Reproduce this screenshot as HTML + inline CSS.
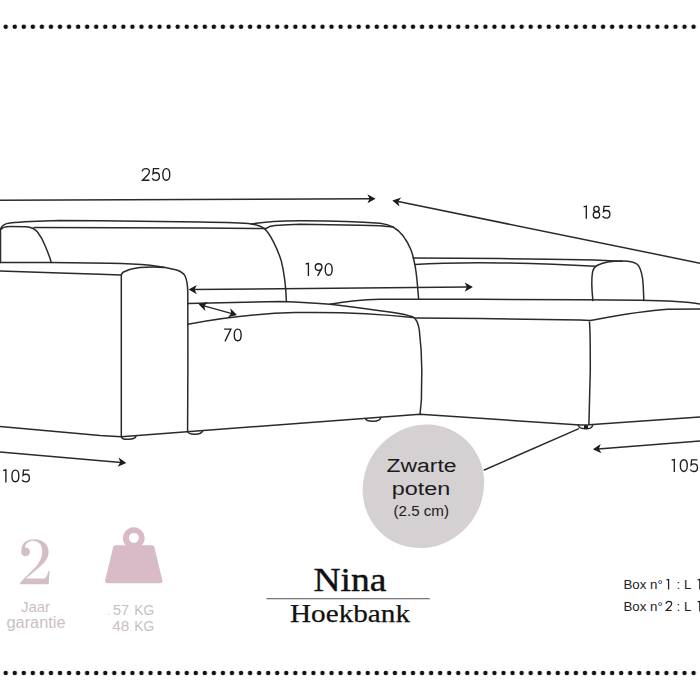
<!DOCTYPE html>
<html><head><meta charset="utf-8">
<style>
html,body{margin:0;padding:0;background:#fff;width:700px;height:700px;overflow:hidden}
svg{display:block}
text{font-family:"Liberation Sans",sans-serif}
.ser{font-family:"Liberation Serif",serif}
</style></head>
<body>
<svg width="700" height="700" viewBox="0 0 700 700">
<defs>
<pattern id="dots" x="1.2" y="0" width="9.051" height="700" patternUnits="userSpaceOnUse">
<circle cx="4.5" cy="26.8" r="2.25" fill="#111"/>
<circle cx="4.5" cy="673" r="2.25" fill="#111"/>
</pattern>
</defs>
<rect x="0" y="0" width="700" height="700" fill="#fff"/>
<rect x="0" y="0" width="700" height="700" fill="url(#dots)"/>

<!-- grey circle -->
<ellipse cx="423.4" cy="486.3" rx="63" ry="59.5" transform="rotate(-53.4 423.4 486.3)" fill="#d5d1d2"/>

<g fill="none" stroke="#2a2a2a" stroke-width="1.5" stroke-linecap="round" stroke-linejoin="round">
<!-- far-left vertical + left backrest outer top + right end curve -->
<path d="M0.5,262.5 L0.5,229 C1.5,226 5,223.5 10,223 C20,222 40,221 60,220.5 L100,220.7 L200,222.1 C225,222.5 243,223 251.4,224 C258,225 262,226.5 264.3,228.6 C270,233 278,250 281.4,261.4 C284,272 286,290 286.4,301.4"/>
<!-- leftmost cushion end -->
<path d="M1.5,229 C2.5,227.5 5,226.6 10,226.6 L26,226.8 C31,227 35,229 37.5,232 C41,236.5 43.5,241.5 45,245.5 C47.5,251.5 50,257 51.2,262.5"/>
<!-- inner straight line left backrest -->
<path d="M34,227.5 L200,227.9 L265.7,228.6"/>
<!-- right backrest outer -->
<path d="M251.4,224 C262,222 280,220.8 300,220.7 C330,220.6 360,221.6 380,223.3 C386,224 390,225.5 393,227 C400,231 407,240 411,250 C414,258 416,270 417,280 L418.6,298.6"/>
<!-- right backrest inner -->
<path d="M265.7,228.6 C268,227 271,226 275,225.6 C285,224.8 295,224.4 300,224.3 L360,225.2 L380,225.8 L393,227"/>
<!-- chaise back top -->
<path d="M413,258 L500,258.6 C560,259 600,259.6 622,261.3"/>
<!-- chaise back second line -->
<path d="M415,264.5 C440,262.8 480,262.7 500,262.9 C540,263.5 570,264.8 595.4,266.3"/>
<!-- chaise arm cushion -->
<path d="M592.9,300.6 C592,292 591.3,280 592.4,273 C593,269 594.5,267 597,265.5 C602,263 612,261 622.9,261.1 C630,261.3 635,262.3 637.5,264.5 C640,267 641.5,272 642.5,278 C643.3,284 643.6,292 643.8,300.6"/>
<!-- seat top line left + arm outer + arm right vertical -->
<path d="M0,262.5 L50,262.6 L110,263.2 C125,263.4 140,264.2 150,265.3 C160,266.3 170,268.2 176.8,270 C181,271.5 184,273.5 185.3,276.5 C187,280.5 187.6,286 187.8,292 L187.9,360 L187.6,431.4"/>
<!-- arm inner top + left vertical -->
<path d="M121.3,436.6 L121.3,275 C122,273 123.5,271.5 125.4,271.2 C129,269.5 133,268.5 140,267.6 C148,267 158,267.1 164,267.4"/>
<!-- lower line -->
<path d="M0,271 L60,273 L100,274.3 L121.3,275"/>
<!-- seat top front line -->
<path d="M187.9,303.6 L280,301.4 C300,302 320,303.3 330,304.3 C350,306.5 375,310 380,310.7 C395,312.5 408,315 413,317 C416,318.5 418,322 419.3,330 C420.5,340 421.8,355 421.8,370 L421.4,400 L420,414.3"/>
<!-- chaise seat top -->
<path d="M330,304.3 C345,301.5 365,299.5 380,299.3 L480,299.3 L580,299.7 L640,300.3 C668,300.8 688,302 700,304"/>
<!-- seat cushion front curve -->
<path d="M187.9,324.3 C225,317.2 255,313.6 295,312.6 C335,311.8 375,313.3 413,317.5"/>
<!-- chaise front top edge -->
<path d="M415,317.9 L480,318.6 L580,320 L590.3,320.5 C612,316.5 642,310.8 668,309.3 L700,309"/>
<!-- chaise right vertical -->
<path d="M589.4,322 C590,325 590.3,335 590.3,370 L588.9,424.6"/>
<!-- base lines -->
<path d="M0,426.6 L100,435.5 L121.3,436.7 L420,414.3 L580,425 L588.9,424.7 L700,417.1"/>
<!-- feet -->
<path d="M121.5,436.8 C122,440.3 135,440.3 136,436"/>
<path d="M187.7,431.4 C188.5,435.2 201.5,435.2 202.5,431"/>
<path d="M365.6,418.5 C366.5,422.3 380,422.3 380.8,417.6"/>
<path d="M578.3,425 C578.5,429.5 591.5,430.3 592.6,425.3"/>
<!-- leader line -->
<path d="M578.3,428.9 L484.3,470"/>
</g>
<rect x="584" y="425.2" width="4" height="3.6" fill="#1c1c1c"/>

<!-- dimension lines -->
<g fill="none" stroke="#2a2a2a" stroke-width="1.5">
<path d="M0,200.3 L370,198.7"/>
<path d="M397,201.3 L700,263.2"/>
<path d="M194,289.5 L467,287.1"/>
<path d="M203,305.6 L232,313.6"/>
<path d="M0,452 L121,462.4"/>
<path d="M598,448.9 L700,441.1"/>
</g>
<g fill="#1c1c1c">
<!-- arrowheads: tip at origin pointing +x -->
<path transform="translate(375.6,198.7) rotate(-0.2)" d="M0,0 L-8.2,-4.6 L-6,0 L-8.2,4.6 Z"/>
<path transform="translate(392.3,200.4) rotate(191.6)" d="M0,0 L-8.2,-4.6 L-6,0 L-8.2,4.6 Z"/>
<path transform="translate(188.6,289.6) rotate(179.5)" d="M0,0 L-8.2,-4.6 L-6,0 L-8.2,4.6 Z"/>
<path transform="translate(472.9,287.0) rotate(-0.5)" d="M0,0 L-8.2,-4.6 L-6,0 L-8.2,4.6 Z"/>
<path transform="translate(198.6,304.3) rotate(195.6)" d="M0,0 L-8.2,-4.6 L-6,0 L-8.2,4.6 Z"/>
<path transform="translate(237,315) rotate(15.6)" d="M0,0 L-8.2,-4.6 L-6,0 L-8.2,4.6 Z"/>
<path transform="translate(126.3,462.9) rotate(5.2)" d="M0,0 L-8.2,-4.6 L-6,0 L-8.2,4.6 Z"/>
<path transform="translate(592.9,449.3) rotate(175.6)" d="M0,0 L-8.2,-4.6 L-6,0 L-8.2,4.6 Z"/>
</g>

<!-- dimension labels -->
<g fill="none" stroke="#1e1e1e" stroke-width="1.35">
<path d="M142.30,171.50 C142.40,169.50 144.00,168.60 145.90,168.60 C147.90,168.60 149.40,169.90 149.40,171.60 C149.40,172.90 148.70,173.90 147.60,175.00 L142.50,180.20 L149.45,180.20"/>
<path d="M159.30,168.60 L153.50,168.60 L153.00,173.80 C153.80,173.10 154.80,172.70 155.90,172.70 C158.00,172.70 159.40,174.40 159.40,176.50 C159.40,178.70 157.90,180.30 155.80,180.30 C154.20,180.30 152.80,179.50 152.10,178.30"/>
<path d="M166.30,168.55 C168.51,168.55 169.75,170.66 169.75,174.40 C169.75,178.14 168.51,180.25 166.30,180.25 C164.09,180.25 162.85,178.14 162.85,174.40 C162.85,170.66 164.09,168.55 166.30,168.55 Z"/>
<path d="M583.60,206.80 L586.30,206.20 L586.30,218.70"/>
<circle cx="596.45" cy="209.05" r="2.7"/><circle cx="596.45" cy="214.80" r="3.2"/>
<path d="M609.80,206.40 L604.00,206.40 L603.50,211.60 C604.30,210.90 605.30,210.50 606.40,210.50 C608.50,210.50 609.90,212.20 609.90,214.30 C609.90,216.50 608.40,218.10 606.30,218.10 C604.70,218.10 603.30,217.30 602.60,216.10"/>
<path d="M305.70,264.00 L308.40,263.40 L308.40,275.90"/>
<circle cx="318.60" cy="267.10" r="3.35"/><path d="M321.80,268.20 L317.60,275.90"/>
<path d="M328.70,263.55 C330.91,263.55 332.15,265.66 332.15,269.40 C332.15,273.14 330.91,275.25 328.70,275.25 C326.49,275.25 325.25,273.14 325.25,269.40 C325.25,265.66 326.49,263.55 328.70,263.55 Z"/>
<path d="M224.10,329.10 L230.90,329.10 L225.00,341.40"/>
<path d="M237.70,329.05 C239.91,329.05 241.15,331.16 241.15,334.90 C241.15,338.64 239.91,340.75 237.70,340.75 C235.49,340.75 234.25,338.64 234.25,334.90 C234.25,331.16 235.49,329.05 237.70,329.05 Z"/>
<path d="M3.20,470.50 L5.90,469.90 L5.90,482.40"/>
<path d="M15.40,470.05 C17.61,470.05 18.85,472.16 18.85,475.90 C18.85,479.64 17.61,481.75 15.40,481.75 C13.19,481.75 11.95,479.64 11.95,475.90 C11.95,472.16 13.19,470.05 15.40,470.05 Z"/>
<path d="M29.30,470.10 L23.50,470.10 L23.00,475.30 C23.80,474.60 24.80,474.20 25.90,474.20 C28.00,474.20 29.40,475.90 29.40,478.00 C29.40,480.20 27.90,481.80 25.80,481.80 C24.20,481.80 22.80,481.00 22.10,479.80"/>
<path d="M671.60,460.20 L674.30,459.60 L674.30,472.10"/>
<path d="M683.80,459.75 C686.01,459.75 687.25,461.86 687.25,465.60 C687.25,469.34 686.01,471.45 683.80,471.45 C681.59,471.45 680.35,469.34 680.35,465.60 C680.35,461.86 681.59,459.75 683.80,459.75 Z"/>
<path d="M697.40,459.80 L691.60,459.80 L691.10,465.00 C691.90,464.30 692.90,463.90 694.00,463.90 C696.10,463.90 697.50,465.60 697.50,467.70 C697.50,469.90 696.00,471.50 693.90,471.50 C692.30,471.50 690.90,470.70 690.20,469.50"/>
</g>



<!-- circle text -->
<g fill="#1a1a1a">
<text x="386.5" y="471.7" font-size="18" textLength="70" lengthAdjust="spacingAndGlyphs">Zwarte</text>
<text x="391.8" y="495.1" font-size="18" textLength="58.5" lengthAdjust="spacingAndGlyphs">poten</text>
<text x="393.5" y="515.6" font-size="13.8" textLength="55.5" lengthAdjust="spacingAndGlyphs">(2.5 cm)</text>
</g>

<!-- bottom left: warranty -->
<g fill="#d4bec5">
<circle cx="25.6" cy="551.8" r="4.4"/>
<path d="M21.4,550 C21.4,543 27,539.2 34.5,539.2 C42.5,539.2 48.6,544.3 48.6,551.8 C48.6,558.5 44.5,563 38.5,568 L26,578.6 L43.5,578.6 C45.8,578.6 47.3,576.5 48.2,571.3 L49.6,571.3 L48.6,584.2 L20.2,584.2 L20.2,582.4 L34.3,568.3 C39.3,563.3 42.2,557.5 42.2,551.5 C42.2,545 38.9,540.9 34,540.9 C29,540.6 25.8,543 25,547.5 Z"/>
</g>
<g fill="#cbbfc3" font-size="14">
<text x="21" y="611.8" font-size="14.5" textLength="29" lengthAdjust="spacingAndGlyphs">Jaar</text>
<text x="6.5" y="628.3" font-size="16" textLength="59" lengthAdjust="spacingAndGlyphs">garantie</text>
</g>

<!-- weight icon -->
<g fill="#d8bbc6">
<path fill-rule="evenodd" d="M133.8,527.2 A10.9,10.9 0 1 1 133.79,527.2 Z M133.9,532.9 A4.95,4.95 0 1 0 133.91,532.9 Z"/>
<path d="M115.5,545.3 L152,545.3 Q153.9,545.3 154.4,547.2 L162.3,580.3 Q162.9,583.2 160,583.2 L107.5,583.2 Q104.6,583.2 105.2,580.3 L113.1,547.2 Q113.6,545.3 115.5,545.3 Z"/>
</g>
<g fill="#c6bfc2" font-size="14.2">
<text x="113" y="615" textLength="16" lengthAdjust="spacingAndGlyphs">57</text>
<text x="134.3" y="615" textLength="20" lengthAdjust="spacingAndGlyphs">KG</text>
<text x="112.3" y="631.2" textLength="17" lengthAdjust="spacingAndGlyphs">48</text>
<text x="134.3" y="631.2" textLength="20" lengthAdjust="spacingAndGlyphs">KG</text>
<circle cx="108.5" cy="614.3" r="0.8" fill="#dcd6d8"/><circle cx="131" cy="630.6" r="0.7" fill="#dcd6d8"/>
</g>

<!-- title -->
<text class="ser" x="313.5" y="590.7" font-size="34" fill="#111" stroke="#111" stroke-width="0.4" textLength="73" lengthAdjust="spacingAndGlyphs">Nina</text>
<rect x="266.4" y="598" width="163.3" height="1.3" fill="#7a7a7a"/>
<text class="ser" x="290" y="622.1" font-size="25.5" fill="#111" stroke="#111" stroke-width="0.25" textLength="120" lengthAdjust="spacingAndGlyphs">Hoekbank</text>

<!-- box text -->
<g fill="#222" font-size="13.3">
<text x="623.5" y="589.4">Box n°</text><text x="676.6" y="589.4">:</text><text x="684.1" y="589.4">L</text>
<text x="623.5" y="611.3">Box n°</text><text x="676.6" y="611.3">:</text><text x="684.1" y="611.3">L</text>
</g>
<g fill="none" stroke="#222" stroke-width="1.55">
<g transform="translate(666.1,579.1) scale(0.8)"><path d="M0.40,1.10 L3.10,0.50 L3.10,13.00"/></g>
<g transform="translate(697.3,579.1) scale(0.8)"><path d="M0.40,1.10 L3.10,0.50 L3.10,13.00"/></g>
<g transform="translate(697.3,601.0) scale(0.8)"><path d="M0.40,1.10 L3.10,0.50 L3.10,13.00"/></g>
<g transform="translate(665.6,600.9) scale(0.78)"><path d="M0.70,3.60 C0.80,1.60 2.40,0.70 4.30,0.70 C6.30,0.70 7.80,2.00 7.80,3.70 C7.80,5.00 7.10,6.00 6.00,7.10 L0.90,12.30 L7.85,12.30"/></g>
</g>
</svg>
</body></html>
